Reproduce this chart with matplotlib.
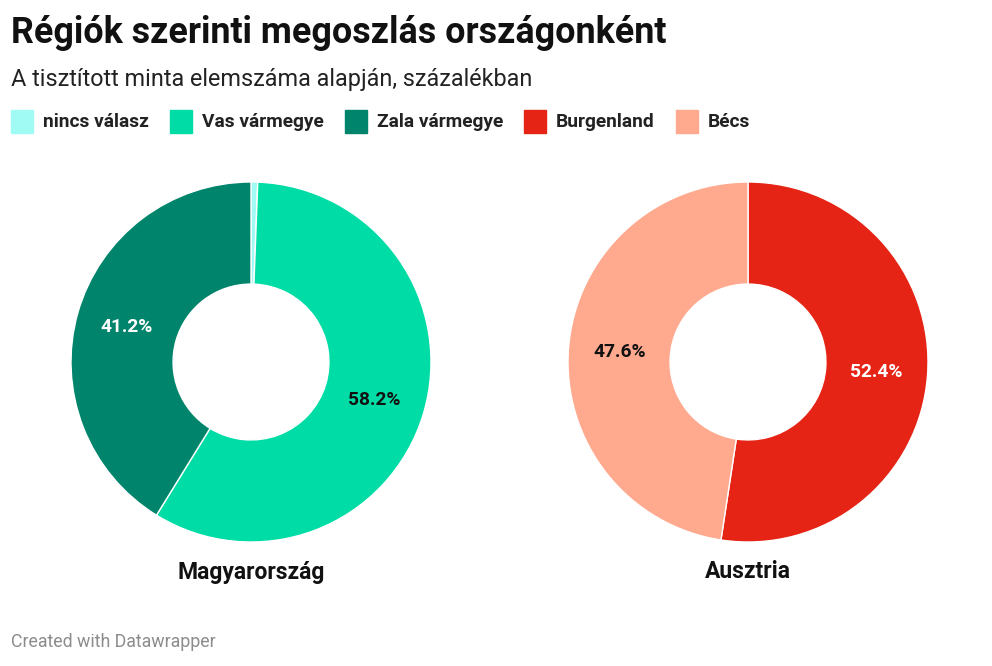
import matplotlib
matplotlib.use("Agg")
import matplotlib.pyplot as plt
from matplotlib.patches import Rectangle
import numpy as np

plt.rcParams['font.family'] = ['Roboto', 'DejaVu Sans']

# data
legend_labels = ['nincs válasz', 'Vas vármegye', 'Zala vármegye', 'Burgenland', 'Bécs']
legend_colors = ['#a0fbf5', '#00dca6', '#00846b', '#e52415', '#ffaa8e']

hu_labels = ['nincs válasz', 'Vas vármegye', 'Zala vármegye']
hu_values = [0.6, 58.2, 41.2]
hu_colors = ['#a0fbf5', '#00dca6', '#00846b']
hu_text = ['#ffffff', '#111111', '#ffffff']

at_labels = ['Burgenland', 'Bécs']
at_values = [52.4, 47.6]
at_colors = ['#e52415', '#ffaa8e']
at_text = ['#ffffff', '#111111']

countries = ['Magyarország', 'Ausztria']

W, H = 992, 666
fig = plt.figure(figsize=(W / 100, H / 100), dpi=100)


def fx(x):
    return x / W


def fy(y):
    return 1 - y / H


fig.text(fx(11), fy(43), 'Régiók szerinti megoszlás országonként',
         fontsize=25.8, fontweight='bold', color='#111111', va='baseline')
fig.text(fx(11), fy(86), 'A tisztított minta elemszáma alapján, százalékban',
         fontsize=16.8, color='#222222', va='baseline')

# legend
renderer = fig.canvas.get_renderer()
x = 11
for lab, col in zip(legend_labels, legend_colors):
    fig.patches.append(Rectangle((fx(x), fy(133)), fx(22), 23 / H,
                                 transform=fig.transFigure, color=col))
    t = fig.text(fx(x + 32), fy(122), lab, fontsize=13.8, fontweight='bold',
                 color='#222222', va='center')
    bb = t.get_window_extent(renderer)
    x = x + 32 + bb.width + 21

# donuts
hole = 0.433
centers = [251, 748]
R = 180
series = [(hu_values, hu_colors, hu_text), (at_values, at_colors, at_text)]
for cx, (vals, cols, tcols), name in zip(centers, series, countries):
    ax = fig.add_axes([fx(cx - R), fy(362 + R), 2 * R / W, 2 * R / H])
    wedges, _ = ax.pie(vals, colors=cols, startangle=90, counterclock=False,
                       radius=1, wedgeprops=dict(width=1 - hole, edgecolor='white',
                                                 linewidth=1))
    ax.set_xlim(-1, 1)
    ax.set_ylim(-1, 1)
    ax.set_aspect('equal')
    ax.axis('off')
    r = (1 + hole) / 2
    for w, v, tc in zip(wedges, vals, tcols):
        if v < 5:
            continue
        ang = np.deg2rad((w.theta1 + w.theta2) / 2)
        ax.text(r * np.cos(ang), r * np.sin(ang), f'{v:.1f}%', ha='center',
                va='center', fontsize=13.8, fontweight='bold', color=tc)
    fig.text(fx(cx), fy(572), name, ha='center', va='center', fontsize=16.5,
             fontweight='bold', color='#111111')

fig.text(fx(11), fy(642), 'Created with Datawrapper', fontsize=12.8,
         color='#8c8c8c', va='center')

fig.savefig('out.png', dpi=100, facecolor='white')
